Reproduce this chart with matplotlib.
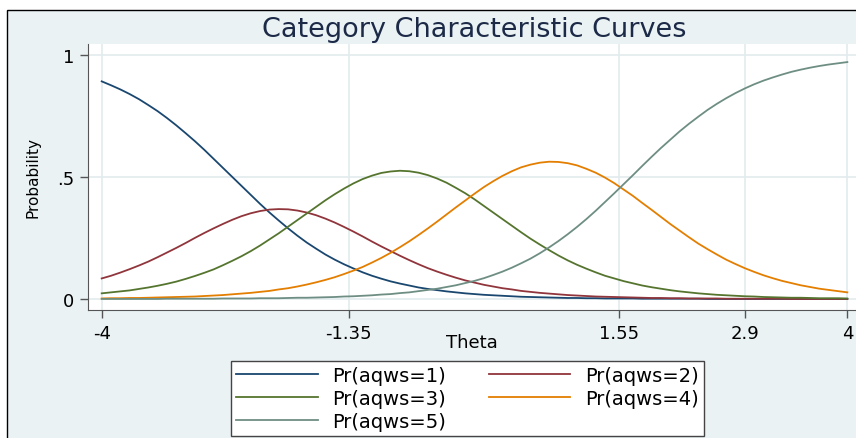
import numpy as np
import matplotlib
matplotlib.use("Agg")
from matplotlib import pyplot as plt
from matplotlib.patches import Rectangle

# theta grid, -4 to 4 in steps of 0.1
theta = np.round(np.linspace(-4, 4, 81), 2)

# category probabilities (in thousandths) at each theta
pr1 = [891, 875, 858, 839, 818, 794, 769, 741, 711, 679,
       646, 611, 574, 537, 500, 463, 426, 389, 354, 321,
       289, 259, 231, 206, 182, 161, 142, 125, 109, 95,
       83, 72, 63, 55, 47, 41, 36, 31, 27, 23,
       20, 17, 15, 13, 11, 9, 8, 7, 6, 5,
       4, 4, 3, 3, 2, 2, 2, 2, 1, 1,
       1, 1, 1, 1, 1, 0, 0, 0, 0, 0,
       0, 0, 0, 0, 0, 0, 0, 0, 0, 0,
       0]
pr2 = [84, 95, 108, 122, 137, 153, 171, 190, 209, 229,
       250, 270, 289, 307, 324, 339, 351, 360, 366, 368,
       367, 362, 354, 343, 329, 313, 295, 276, 256, 235,
       215, 196, 177, 159, 142, 126, 112, 99, 87, 76,
       67, 58, 51, 44, 39, 33, 29, 25, 22, 19,
       16, 14, 12, 10, 9, 8, 7, 6, 5, 4,
       4, 3, 3, 2, 2, 2, 2, 1, 1, 1,
       1, 1, 1, 1, 0, 0, 0, 0, 0, 0,
       0]
pr3 = [23, 27, 31, 35, 41, 47, 54, 62, 71, 82,
       94, 107, 121, 138, 156, 175, 196, 219, 244, 269,
       296, 323, 350, 377, 404, 429, 452, 473, 491, 505,
       516, 522, 525, 523, 517, 507, 493, 476, 455, 433,
       408, 381, 354, 327, 300, 273, 247, 223, 200, 178,
       158, 140, 124, 109, 95, 84, 73, 64, 55, 48,
       42, 36, 31, 27, 23, 20, 17, 15, 13, 11,
       10, 8, 7, 6, 5, 5, 4, 3, 3, 3,
       2]
pr4 = [2, 3, 3, 4, 4, 5, 6, 7, 8, 9,
       10, 12, 14, 16, 19, 22, 25, 29, 33, 39,
       44, 51, 59, 68, 78, 89, 102, 116, 131, 149,
       168, 189, 212, 236, 262, 289, 317, 346, 375, 403,
       431, 458, 482, 504, 523, 539, 550, 558, 562, 561,
       556, 547, 533, 517, 497, 474, 448, 422, 393, 365,
       336, 307, 280, 253, 227, 204, 182, 161, 143, 126,
       111, 97, 85, 74, 65, 56, 49, 42, 37, 32,
       27]
pr5 = [0, 0, 0, 0, 0, 0, 0, 1, 1, 1,
       1, 1, 1, 2, 2, 2, 2, 3, 3, 3,
       4, 5, 5, 6, 7, 8, 10, 11, 13, 15,
       18, 20, 24, 27, 32, 37, 42, 49, 56, 65,
       74, 85, 98, 112, 128, 146, 165, 187, 211, 237,
       265, 295, 327, 361, 397, 433, 470, 507, 545, 582,
       618, 652, 686, 717, 746, 774, 799, 822, 843, 862,
       879, 894, 907, 919, 930, 939, 947, 954, 960, 965,
       970]

labels = ["Pr(aqws=1)", "Pr(aqws=2)", "Pr(aqws=3)", "Pr(aqws=4)", "Pr(aqws=5)"]
xticks = [-4, -1.35, 1.55, 2.9, 4]
xticklabels = ["-4", "-1.35", "1.55", "2.9", "4"]
yticks = [0, 0.5, 1]
yticklabels = ["0", ".5", "1"]

W, H = 856, 439
plt.rcParams["font.family"] = ["DejaVu Sans"]
fig = plt.figure(figsize=(W / 100, H / 100), dpi=100, facecolor="white")

# graph region background with its outline
fig.patches.append(Rectangle((7 / W, -0.1), 1.2, 1.1 - 11 / H, transform=fig.transFigure,
                             facecolor="#EAF2F3", edgecolor="black", lw=1, zorder=-1))

ax = fig.add_axes([88 / W, 1 - 310.7 / H, 768 / W, 265.7 / H])
ax.set_facecolor("white")
colors = ["#1A476F", "#90353B", "#55752F", "#E37E00", "#6E8E84"]
lines = []
for y, c, lab in zip([pr1, pr2, pr3, pr4, pr5], colors, labels):
    (ln,) = ax.plot(theta, np.array(y) / 1000, color=c, lw=1.3, label=lab)
    lines.append(ln)

ax.set_xlim(-4.147, 4.093)
ax.set_ylim(-0.044, 1.044)
ax.set_xticks(xticks)
ax.set_xticklabels(xticklabels)
ax.set_yticks(yticks)
ax.set_yticklabels(yticklabels)
ax.grid(True, color="#E3EBEE", lw=1.2)
ax.set_axisbelow(True)
for s in ["top", "right"]:
    ax.spines[s].set_visible(False)
for s in ["left", "bottom"]:
    ax.spines[s].set_color("#555555")
ax.tick_params(length=6, width=1, color="#555555", labelsize=13, pad=4)

fig.text(474 / W, 1 - 30 / H, "Category Characteristic Curves", ha="center", va="center",
         fontsize=19.5, color="#1C2A48")
fig.text(472 / W, 1 - 343 / H, "Theta", ha="center", va="center", fontsize=13)
fig.text(33 / W, 1 - 178 / H, "Probability", ha="center", va="center", rotation=90, fontsize=11)

# legend reads across rows: 1 2 / 3 4 / 5
order = [0, 2, 4, 1, 3]
leg = fig.legend([lines[i] for i in order], [labels[i] for i in order], ncol=2,
                 loc="upper left", bbox_to_anchor=(231 / W, 1 - 362 / H), fontsize=14,
                 frameon=True, fancybox=False, edgecolor="#444444", framealpha=1,
                 handlelength=4.2, handletextpad=0.75, columnspacing=2.2, labelspacing=0.2,
                 borderpad=0.25, borderaxespad=0)
leg.get_frame().set_linewidth(1)

fig.savefig("out.png", dpi=100, facecolor="white")
